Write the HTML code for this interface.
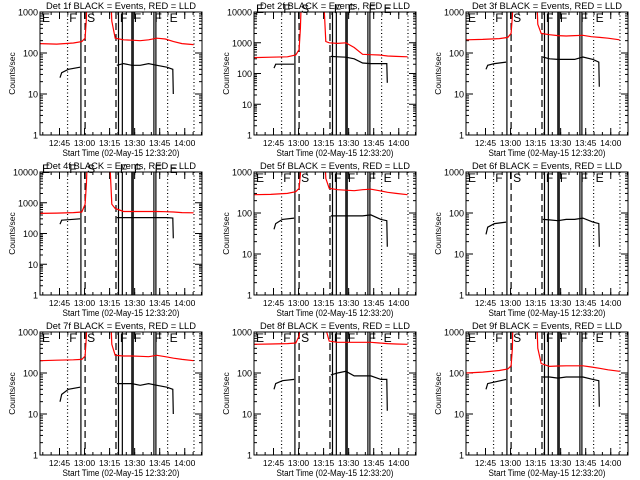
<!DOCTYPE html>
<html><head><meta charset="utf-8"><style>
html,body{margin:0;padding:0;background:#fff;}
svg{display:block;font-family:"Liberation Sans",sans-serif;}
</style></head><body>
<svg id="chart" width="640" height="480" viewBox="0 0 640 480"></svg>
<script>
const detectorNames = ["1f","2f","3f","4f","5f","6f","7f","8f","9f"];
const yMaxDecades = [3,4,3,4,3,3,3,3,3];
const redT = [0,10,20,25,27,27.8,28.5,41.5,43,45,50,55,60,65,70,75,80,85,92];
const red1 = [170,165,175,190,230,700,20000,20000,600,230,210,205,200,210,230,220,190,170,160];
const red2 = [330,340,350,400,600,3000,50000,50000,1100,1000,950,1000,700,420,410,400,370,360,350];
const red3 = [210,215,225,240,300,800,20000,20000,500,300,280,265,260,265,270,250,240,230,210];
const red4 = [450,460,480,500,900,4000,50000,50000,900,650,520,520,520,520,520,510,500,480,470];
const red5 = [280,285,300,330,400,900,20000,20000,700,400,370,360,350,370,380,350,320,300,280];
const red6 = null;
const red7 = [200,205,210,215,260,800,20000,20000,500,270,260,260,255,250,270,250,230,215,200];
const red8 = [500,510,520,540,800,1500,20000,20000,1200,600,560,560,560,560,560,540,520,510,500];
const red9 = [100,105,115,125,150,400,20000,20000,400,170,145,148,150,150,150,140,130,120,110];
const redSeries = [red1,red2,red3,red4,red5,red6,red7,red8,red9];
const blackT = [12,13,17,24,null,46,50,55,60,65,70,76,79.5,79.8];
const black1 = [25,33,40,45,null,50,55,50,50,55,50,45,40,10];
const black2 = [150,200,200,200,null,360,350,340,300,220,210,210,210,50];
const black3 = [40,50,55,60,null,80,72,70,70,70,80,70,60,15];
const black4 = [200,270,280,300,null,330,330,330,330,330,330,330,320,70];
const black5 = [40,55,70,75,null,85,85,85,85,85,90,70,65,15];
const black6 = [30,45,55,60,null,70,68,65,70,70,75,60,55,15];
const black7 = [20,30,40,45,null,55,55,55,50,55,50,45,40,10];
const black8 = [40,55,65,70,null,90,100,110,85,85,85,70,70,12];
const black9 = [40,55,60,70,null,80,80,75,80,80,80,70,65,15];
const blackSeries = [black1,black2,black3,black4,black5,black6,black7,black8,black9];
const markerT = [16.5,24.5,27,45.5,47,49.3,55,55.8,68.2,69.4,76.4,92.2];
const markerStyle = ["dot","solid","dash","dash","solid","solid","solid","solid","solid","solid","dot","dot"];
const letterT = [1.2,17.5,28.2,47.8,56.2,68.6,77.6];
const letterText = ["E","F","S","F","F","F","E"];
const xTickT = [11.67,26.67,41.67,56.67,71.67,86.67];
const xTickLabels = ["12:45","13:00","13:15","13:30","13:45","14:00"];

const NS="http://www.w3.org/2000/svg";
const svg=document.getElementById('chart');
const colX=[40,254,466], rowY=[12,172,332], W=162, H=123, XMAX=97;
function mk(tag,attrs,parent){const e=document.createElementNS(NS,tag);for(const k in attrs)e.setAttribute(k,attrs[k]);(parent||svg).appendChild(e);return e;}

for(let p=0;p<9;p++){
  const x0=colX[p%3], y0=rowY[Math.floor(p/3)], dec=yMaxDecades[p];
  const xs=t=>x0+t/XMAX*W;
  const ys=v=>y0+H-Math.log10(v)/dec*H;
  const g=mk('g',{});
  
  
  const cp=mk('clipPath',{id:'c'+p},g);
  mk('rect',{x:x0,y:y0,width:W,height:H},cp);
  const tt=mk('text',{x:x0+W/2,y:y0-3,'text-anchor':'middle','font-size':'9.5',textLength:'150',lengthAdjust:'spacingAndGlyphs'},g);
  tt.textContent='Det '+detectorNames[p]+' BLACK = Events, RED = LLD';
  
  
  const xl=mk('text',{x:x0+W/2,y:y0+H+21,'text-anchor':'middle','font-size':'9',textLength:'117',lengthAdjust:'spacingAndGlyphs'},g);
  xl.textContent='Start Time (02-May-15 12:33:20)';
  
  
  const yl=mk('text',{x:0,y:0,'text-anchor':'middle','font-size':'8.5',transform:`translate(${x0-25},${y0+H/2}) rotate(-90)`},g);
  yl.textContent='Counts/sec';
  
  
  for(let d=0;d<=dec;d++){
    const y=ys(Math.pow(10,d));
    mk('line',{x1:x0,x2:x0+7,y1:y,y2:y,stroke:'#000'},g);
    mk('line',{x1:x0+W-7,x2:x0+W,y1:y,y2:y,stroke:'#000'},g);
    const lb=mk('text',{x:x0-2,y:y+3.5,'text-anchor':'end','font-size':'9'},g);
    lb.textContent=String(Math.pow(10,d));
    
    
    if(d<dec)for(let m=2;m<10;m++){const yy=ys(m*Math.pow(10,d));
      mk('line',{x1:x0,x2:x0+3,y1:yy,y2:yy,stroke:'#000'},g);
      mk('line',{x1:x0+W-3,x2:x0+W,y1:yy,y2:yy,stroke:'#000'},g);}
  }
  for(let m=1.67;m<XMAX;m+=5){const x=xs(m);
    mk('line',{x1:x,x2:x,y1:y0+H,y2:y0+H-3,stroke:'#000'},g);
    mk('line',{x1:x,x2:x,y1:y0,y2:y0+3,stroke:'#000'},g);}
  xTickT.forEach((t,i)=>{const x=xs(t);
    mk('line',{x1:x,x2:x,y1:y0+H,y2:y0+H-7,stroke:'#000'},g);
    mk('line',{x1:x,x2:x,y1:y0,y2:y0+7,stroke:'#000'},g);
    const lb=mk('text',{x:x,y:y0+H+11,'text-anchor':'middle','font-size':'8.5'},g);
    lb.textContent=xTickLabels[i];
    
    });
  markerT.forEach((t,i)=>{const x=xs(t);
    const st=markerStyle[i];
    const l=mk('line',{x1:x,x2:x,y1:y0,y2:y0+H,stroke:'#000','stroke-width':st==='solid'?1.2:1.2,'stroke-dasharray':st==='dot'?'1,2.5':(st==='dash'?'7,4':'none')},g);
    
    });
  letterT.forEach((t,i)=>{
    const lt=mk('text',{x:xs(t),y:y0+(dec===4?1:10),'font-size':'12'},g);
    lt.textContent=letterText[i];
    
    });
  function path(T,V){let d='',pen=false;
    for(let i=0;i<T.length;i++){if(T[i]===null||V[i]===null){pen=false;continue;}
      d+=(pen?'L':'M')+xs(T[i]).toFixed(1)+','+ys(V[i]).toFixed(1);pen=true;}return d;}
  if(redSeries[p]){const r=mk('path',{d:path(redT,redSeries[p]),fill:'none',stroke:'#ff0000','stroke-width':1.2,'clip-path':`url(#c${p})`},g);
    
    }
  const b=mk('path',{d:path(blackT,blackSeries[p]),fill:'none',stroke:'#000','stroke-width':1.2,'clip-path':`url(#c${p})`},g);
  
  
  const fr=mk('rect',{x:x0,y:y0,width:W,height:H,fill:'none',stroke:'#000','stroke-width':1},g);
  
  
}
</script>
</body></html>
